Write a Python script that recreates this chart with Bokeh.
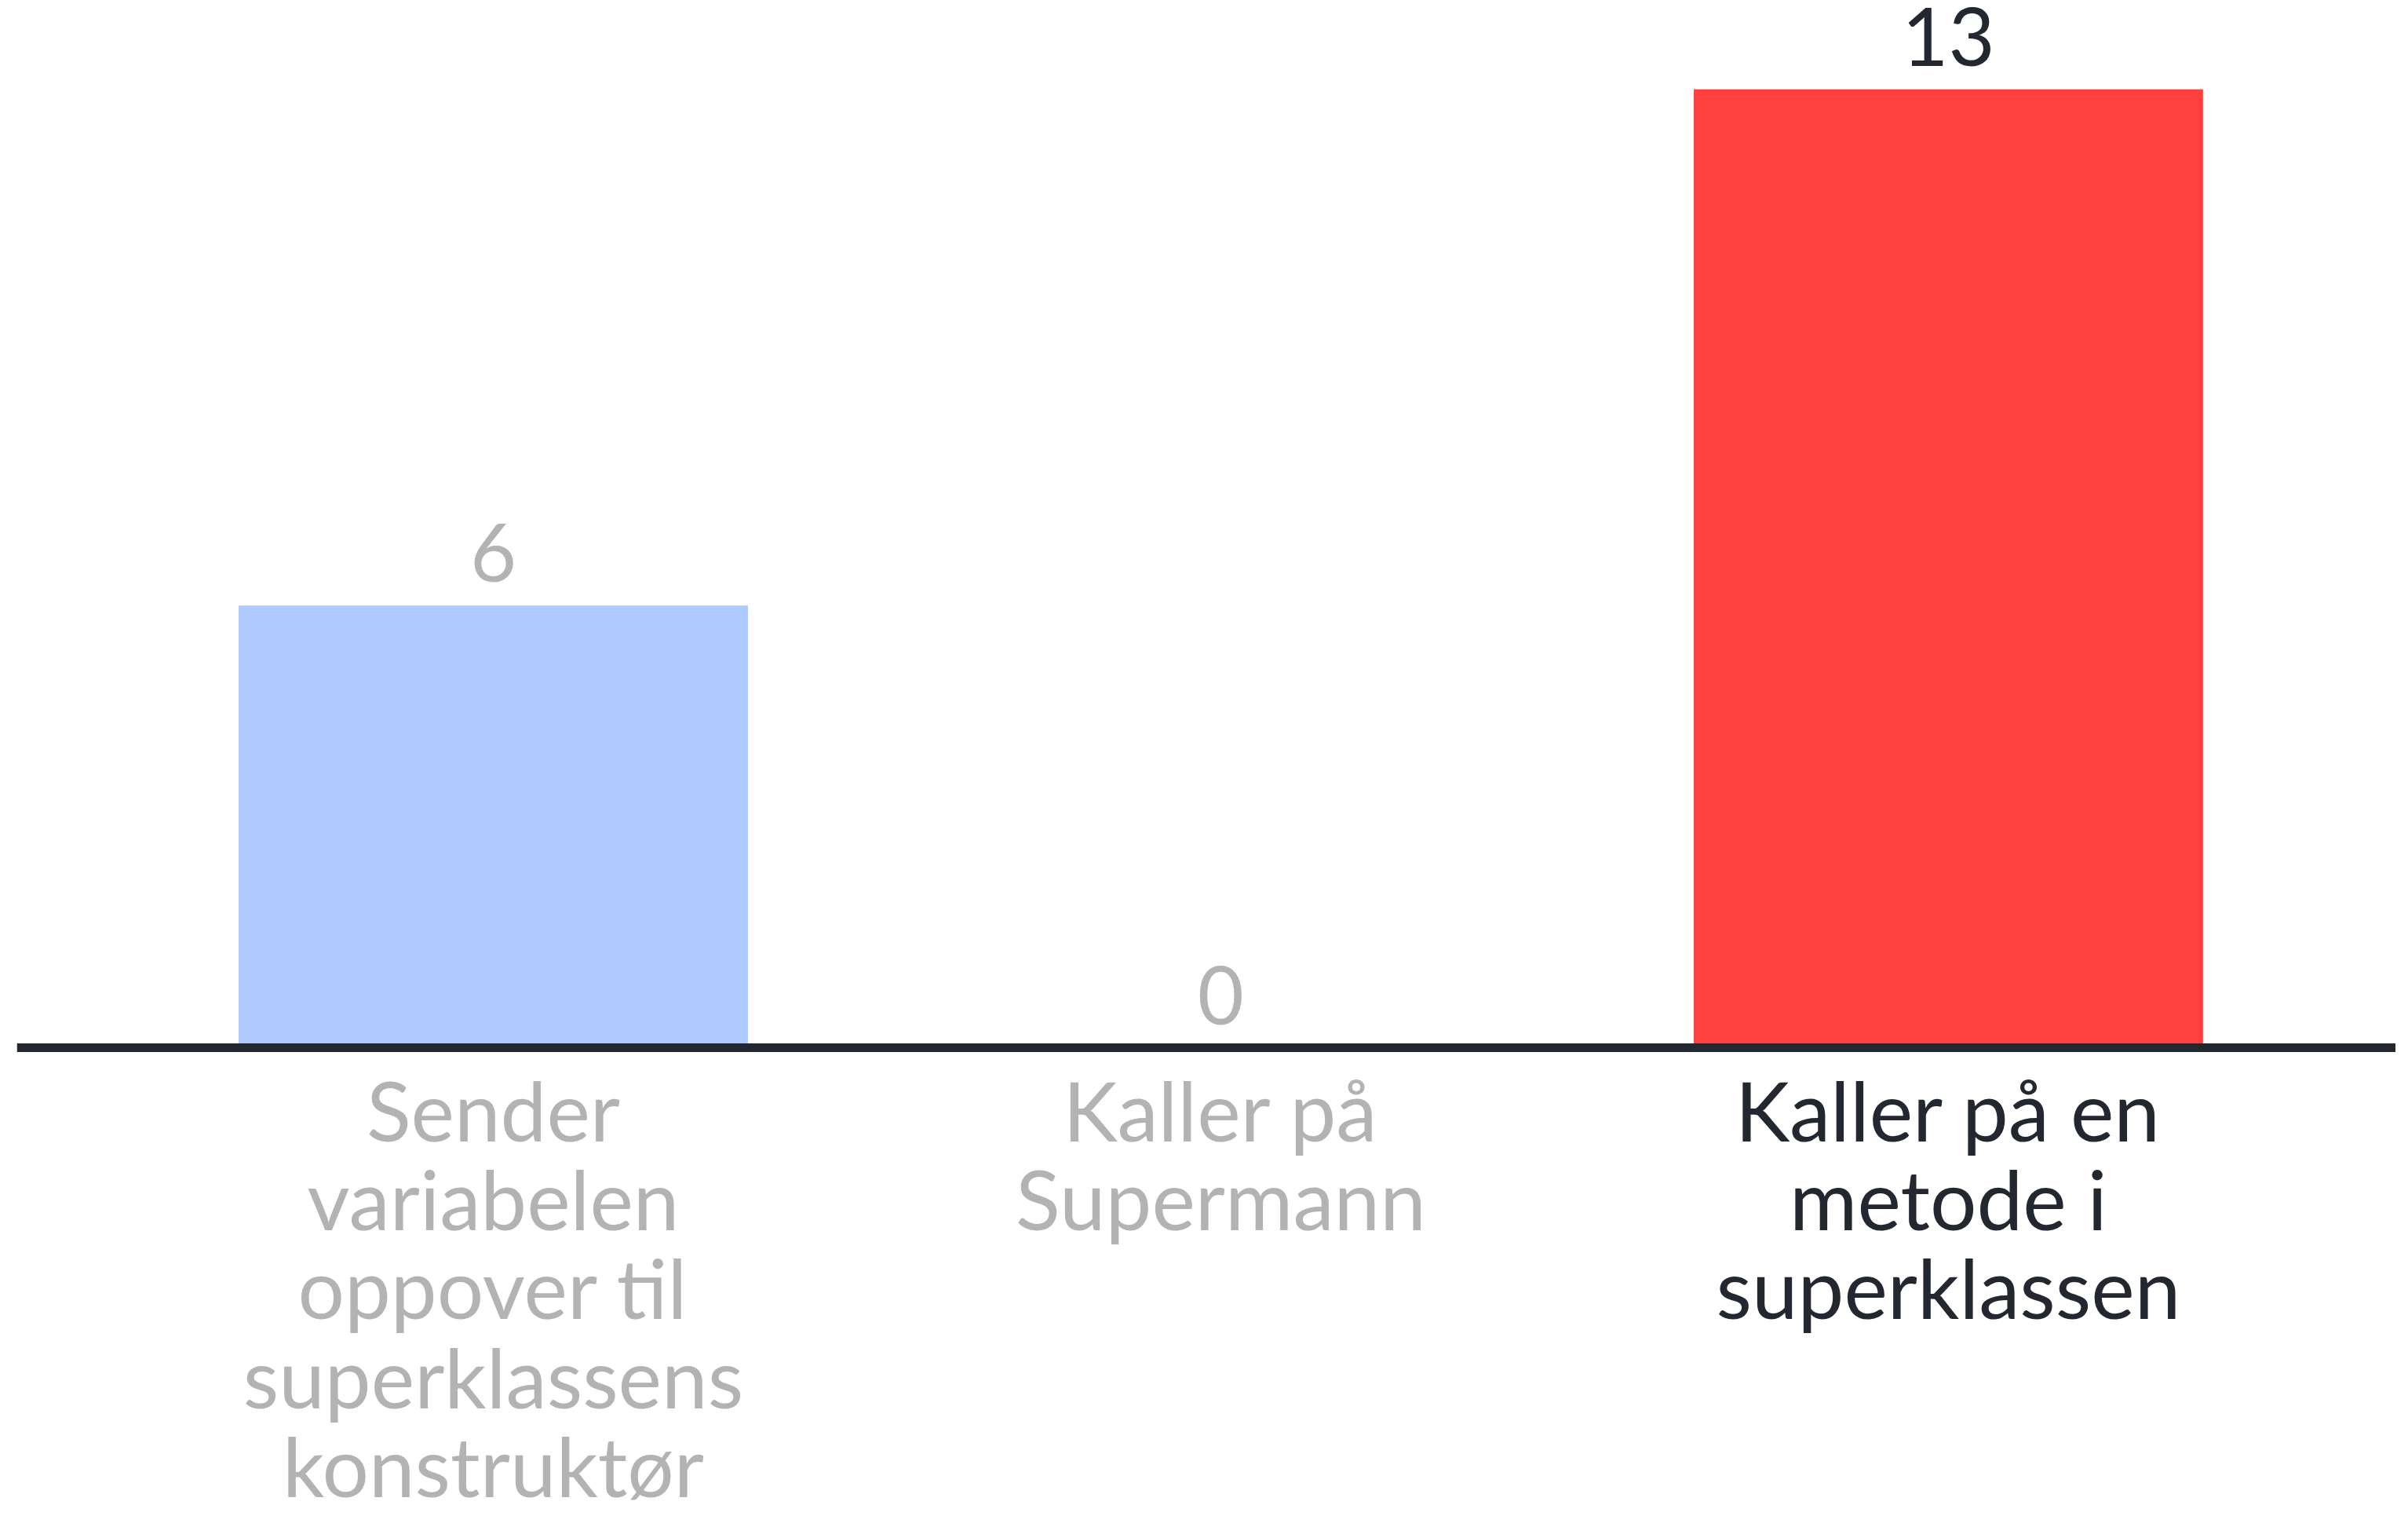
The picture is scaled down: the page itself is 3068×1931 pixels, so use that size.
from bokeh.plotting import figure
from bokeh.models import ColumnDataSource, Span, Range1d
from bokeh.core.properties import value
from bokeh.embed import file_html
from bokeh.resources import INLINE

# ---- data ----
categories = [
    "Sender variabelen oppover til superklassens konstruktør",
    "Kaller på Supermann",
    "Kaller på en metode i superklassen",
]
label_lines = [
    "Sender\nvariabelen\noppover til\nsuperklassens\nkonstruktør",
    "Kaller på\nSupermann",
    "Kaller på en\nmetode i\nsuperklassen",
]
counts = [6, 0, 13]
bar_colors = ["#adc9fd", "#adc9fd", "#ff403d"]
text_colors = ["#b3b3b3", "#b3b3b3", "#23272f"]

positions = list(range(len(categories)))
source = ColumnDataSource(dict(
    x=positions,
    counts=counts,
    count_text=[str(c) for c in counts],
    labels=label_lines,
    bar_color=bar_colors,
    text_color=text_colors,
))

FONT = value("Lato")

p = figure(
    width=3052, height=1915,
    x_range=Range1d(-0.6548, 2.615),
    y_range=Range1d(-6.187, 14.207),
    output_backend="svg", toolbar_location=None,
    x_axis_location=None, y_axis_location=None,
    min_border_left=21, min_border_right=0,
    min_border_top=0, min_border_bottom=0,
)
p.grid.visible = False
p.outline_line_color = None
p.background_fill_color = "white"
p.border_fill_color = "white"

p.vbar(x="x", top="counts", bottom=0, width=0.7, fill_color="bar_color",
       line_color=None, source=source)

p.add_layout(Span(location=0, dimension="width", line_color="#23272f", line_width=11))

p.text(x="x", y="counts", text="count_text", text_color="text_color",
       text_font=FONT, text_font_size="102px", text_align="center",
       text_baseline="alphabetic", y_offset=-67, source=source)

p.text(x="x", y=0, text="labels", text_color="text_color",
       text_font=FONT, text_font_size="105px", text_align="center",
       text_baseline="top", text_line_height=0.9, y_offset=15, source=source)

open("out.html", "w").write(file_html(p, INLINE))
